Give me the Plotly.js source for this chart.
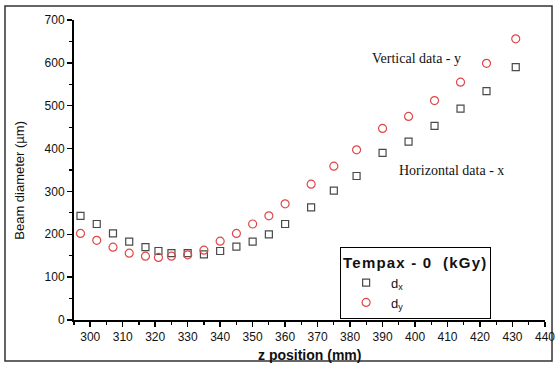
<!DOCTYPE html>
<html>
<head>
<meta charset="utf-8">
<script src="https://cdn.plot.ly/plotly-3.0.1.min.js"></script>
<style>html,body{margin:0;padding:0;background:#fff;}#chart{width:555px;height:365px;}
.legendtitletext{letter-spacing:1.2px;}</style>
</head>
<body>
<div id="chart"></div>
<script>
// z position (mm)
const zPos = [297, 302, 307, 312, 317, 321, 325, 330, 335, 340, 345, 350, 355, 360, 368, 375, 382, 390, 398, 406, 414, 422, 431];
// horizontal beam diameter d_x (µm)
const dX = [243, 224, 202, 183, 170, 161, 156, 156, 153, 161, 171, 183, 200, 224, 263, 302, 336, 390, 416, 453, 493, 534, 590];
// vertical beam diameter d_y (µm)
const dY = [202, 186, 170, 156, 149, 146, 149, 152, 163, 184, 202, 224, 243, 271, 317, 359, 397, 447, 475, 512, 555, 599, 656];
const seriesNames = ['d<sub>x</sub>', 'd<sub>y</sub>'];
const legendTitle = '<b>Tempax - 0\u00a0 (kGy)</b>';
const xTitle = '<b>z position (mm)</b>';
const yTitle = 'Beam diameter (\u00b5m)';
const noteY = 'Vertical data - y';
const noteX = 'Horizontal data - x';

const sans = 'Liberation Sans, Arial, sans-serif';
const serif = 'Liberation Serif, Times New Roman, serif';

const traces = [
  {x: zPos, y: dX, name: seriesNames[0], type: 'scatter', mode: 'markers', cliponaxis: false,
   marker: {symbol: 'square-open', size: 7, color: '#4a4a4a', line: {width: 1.2, color: '#4a4a4a'}}},
  {x: zPos, y: dY, name: seriesNames[1], type: 'scatter', mode: 'markers', cliponaxis: false,
   marker: {symbol: 'circle-open', size: 8, color: '#e04848', line: {width: 1.2, color: '#e04848'}}}
];

const axisCommon = {
  showline: true, linewidth: 2, linecolor: '#000', showgrid: false, zeroline: false,
  ticks: 'outside', ticklen: 5, tickwidth: 1.5, tickcolor: '#000',
  ticklabeloverflow: 'allow',
  tickfont: {family: sans, size: 12, color: '#111'}
};

const layout = {
  width: 555, height: 365,
  margin: {l: 74, r: 10, t: 20, b: 45},
  paper_bgcolor: '#fff', plot_bgcolor: '#fff',
  showlegend: true,
  xaxis: Object.assign({}, axisCommon, {range: [295, 440.01], tick0: 300, dtick: 10,
    minor: {dtick: 5, tick0: 300, ticks: 'outside', ticklen: 3, tickwidth: 1.2, tickcolor: '#000'}}),
  yaxis: Object.assign({}, axisCommon, {range: [0, 700.01], tick0: 0, dtick: 100,
    minor: {dtick: 50, tick0: 0, ticks: 'outside', ticklen: 3, tickwidth: 1.2, tickcolor: '#000'}}),
  legend: {
    x: 0.565, y: 0.243, xanchor: 'left', yanchor: 'top',
    bgcolor: '#fff', bordercolor: '#000', borderwidth: 1,
    font: {family: sans, size: 13, color: '#111'},
    title: {text: legendTitle, font: {family: sans, size: 15, color: '#111'}},
    itemwidth: 40, tracegroupgap: 0
  },
  annotations: [
    {xref: 'paper', yref: 'paper', x: 0.5, y: -0.1167, xanchor: 'center', yanchor: 'middle',
     text: xTitle, showarrow: false, font: {family: sans, size: 14, color: '#111'}},
    {xref: 'paper', yref: 'paper', x: -0.115, y: 0.467, xanchor: 'center', yanchor: 'middle',
     text: yTitle, textangle: -90, showarrow: false, font: {family: sans, size: 13, color: '#111'}},
    {xref: 'paper', yref: 'paper', x: 0.7276, y: 0.8733, xanchor: 'center', yanchor: 'middle',
     text: noteY, showarrow: false, font: {family: serif, size: 14, color: '#111'}},
    {xref: 'paper', yref: 'paper', x: 0.8019, y: 0.5, xanchor: 'center', yanchor: 'middle',
     text: noteX, showarrow: false, font: {family: serif, size: 14, color: '#111'}}
  ],
  shapes: [
    {type: 'rect', xref: 'paper', yref: 'paper', x0: -0.1465, x1: 1.0149, y0: -0.1367, y1: 1.0467,
     line: {color: '#333', width: 1.5}, fillcolor: 'rgba(0,0,0,0)', layer: 'below'}
  ]
};

Plotly.newPlot('chart', traces, layout, {displayModeBar: false, staticPlot: true});
</script>
</body>
</html>
